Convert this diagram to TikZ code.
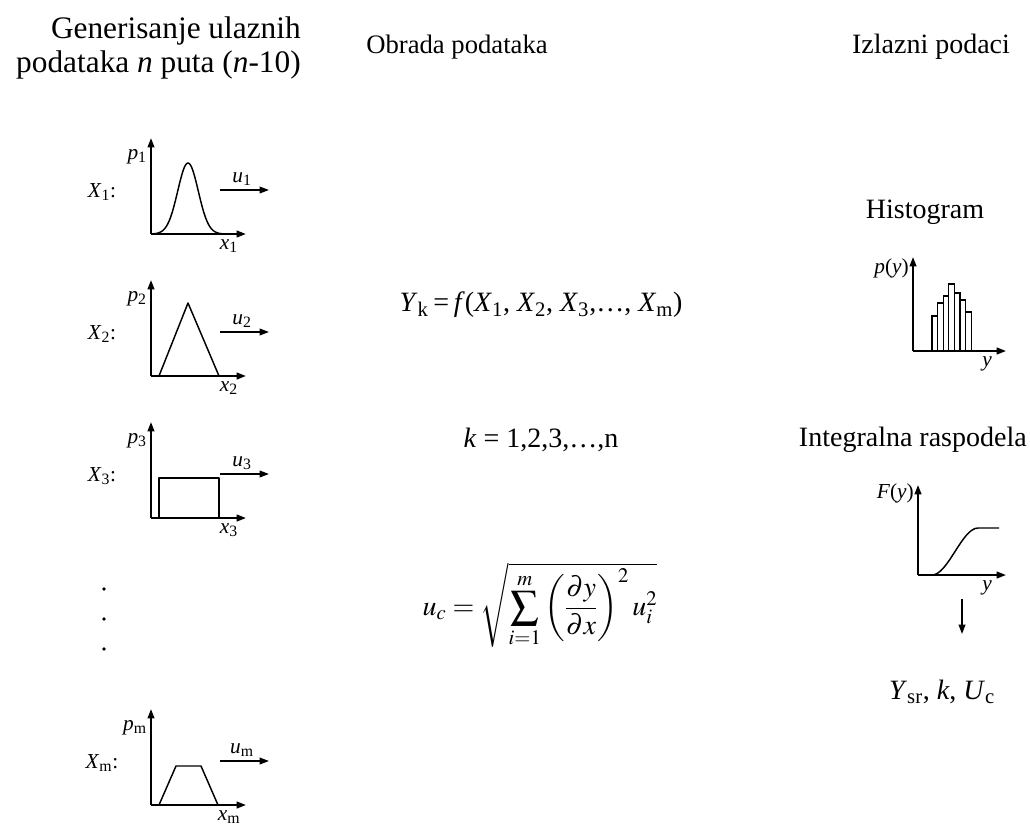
\documentclass[tikz,border=0pt]{standalone}
\usepackage{mathptmx}
\usepackage[no-math]{fontspec}
\setmainfont{Liberation Serif}
\usetikzlibrary{arrows.meta}
\tikzset{
  ax/.style={-{Triangle[length=7pt,width=5pt]},line width=1.4pt},
  crv/.style={line width=1.1pt,line join=round},
  uarr/.style={-{Triangle[length=7pt,width=5pt]},line width=1.1pt},
  ttl/.style={font=\fontsize{21}{26}\selectfont,align=center,inner sep=0pt},
  eq/.style={font=\fontsize{21}{25}\selectfont,inner sep=0pt},
  lb/.style={font=\fontsize{16}{18}\selectfont,inner sep=0pt},
}
\newcommand{\iv}[1]{\textit{#1}}
\newcommand{\ix}[2]{\textit{#1}\textsubscript{#2}}
\begin{document}
\begin{tikzpicture}[x=0.75pt,y=-0.75pt]
\useasboundingbox (0,0) rectangle (1030,827);

% column titles
\node[ttl,align=right,anchor=east,font=\fontsize{23.5}{26}\selectfont] (gen) at (301,48)
  {Generisanje ulaznih\\podataka \textit{n} puta (\textit{n}-10)};
\node[ttl,font=\fontsize{20}{26}\selectfont] (obr) at (457,47) {Obrada podataka};
\node[ttl] (izl) at (931,47) {Izlazni podaci};

% input distributions
\foreach \b/\i in {234/1,376/2,518/3,805/m}{
  \draw[ax] (151,\b) -- (151,\b-96);
  \draw[ax] (151,\b) -- (246,\b);
  \node[lb,anchor=east] (p) at (147,\b-77) {\ix{p}{\i}};
  \node[lb] (x) at (229,\b+12) {\ix{x}{\i}};
  \node[lb] (X) at (102,\b-42) {\ix{X}{\i}:};
  \draw[uarr] (220,\b-44) coordinate (us) -- (269,\b-44) coordinate (ue);
  \node[lb,anchor=south] (u) at (242,\b-48) {\ix{u}{\i}};
}
\draw[crv] plot[domain=151:228,samples=80,smooth]
  (\x,{234-71*exp(-((\x-188)/14.5)^2)});
\draw[crv] (159,376) -- (188,303) -- (219,376);
\draw[crv] (159,518) -- (159,478) -- (219,478) -- (219,518);
\draw[crv] (159,805) -- (176,766) -- (201,766) -- (218,805);
\foreach \d in {589,619,649}
  \fill (104,\d) circle (1.8);

% processing
\node[eq] (yk) at (541,305)
  {\ix{Y}{k}\,=\,\iv{f}(\ix{X}{1}, \ix{X}{2}, \ix{X}{3},…, \ix{X}{m})};
\node[eq] (kk) at (541,440) {\iv{k} = 1,2,3,…,n};
\node[eq] (uc) at (540,605)
  {$\displaystyle u_c=\sqrt{\sum_{i=1}^{m}\left(\frac{\partial y}{\partial x}\right)^{2}u_i^{2}}$};

% outputs
\node[ttl] (hist) at (925,212) {Histogram};
\draw[ax] (913,351) -- (913,257);
\draw[ax] (913,351) -- (1006,351);
\node[lb,anchor=east] (py) at (909,268) {\iv{p}(\iv{y})};
\node[lb] (yh) at (987,364) {\iv{y}};
\foreach \k/\t in {0/316,1/303,2/296,3/284,4/293,5/300,6/312}
  \draw[line width=0.9pt] (932+\k*5.6,351) rectangle (932+\k*5.6+5.6,\t);

\node[ttl,anchor=east] (intr) at (1027,440) {Integralna raspodela};
\draw[ax] (918,575) -- (918,485);
\draw[ax] (918,575) -- (1006,575);
\node[lb,anchor=east] (fy) at (914,493) {\iv{F}(\iv{y})};
\node[lb] (yf) at (987,588) {\iv{y}};
\draw[crv] (918,575) -- (932,575) .. controls (948,575) and (962,528) .. (978,528)
  -- (999,528);

\coordinate (dn) at (962,599);
\node[eq] (res) at (942,692) {\ix{Y}{sr}, \iv{k}, \ix{U}{c}};
\draw[uarr] (dn) -- (962,634);
\end{tikzpicture}
\end{document}
